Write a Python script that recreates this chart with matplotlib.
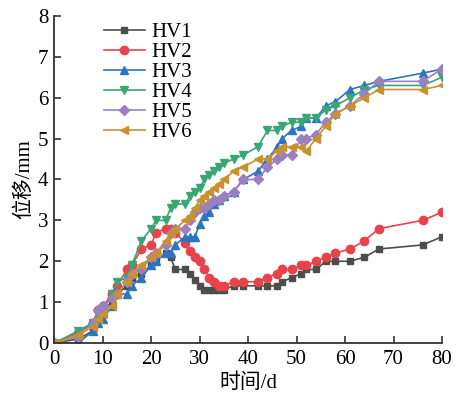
import numpy as np
import matplotlib.pyplot as plt

plt.rcParams['font.family'] = ['Liberation Serif', 'Noto Sans CJK SC']

days = [0, 5, 8, 9, 10, 12, 13, 15, 16, 18, 20, 21, 23, 24, 25, 27, 28, 29, 30, 31, 32,
        33, 34, 35, 37, 39, 42, 44, 46, 47, 49, 51, 52, 54, 56, 58, 61, 64, 67, 76, 80]

hv1 = [0, 0.1, 0.3, 0.6, 0.8, 1.0, 1.2, 1.4, 1.6, 1.7, 1.9, 2.0, 2.2, 2.1, 1.8, 1.8, 1.7,
       1.55, 1.4, 1.3, 1.3, 1.3, 1.3, 1.3, 1.4, 1.4, 1.4, 1.4, 1.4, 1.5, 1.6, 1.7, 1.8,
       1.8, 2.0, 2.0, 2.0, 2.1, 2.3, 2.4, 2.6]
hv2 = [0, 0.25, 0.5, 0.8, 0.9, 1.2, 1.4, 1.8, 1.9, 2.3, 2.4, 2.7, 2.8, 2.8, 2.7, 2.45,
       2.25, 2.1, 2.0, 1.8, 1.6, 1.5, 1.4, 1.4, 1.5, 1.5, 1.5, 1.6, 1.7, 1.8, 1.8, 1.9,
       1.9, 2.0, 2.1, 2.2, 2.3, 2.5, 2.8, 3.0, 3.2]
hv3 = [0, 0.0, 0.3, 0.5, 0.6, 0.9, 1.2, 1.2, 1.4, 1.6, 1.9, 2.0, 2.2, 2.2, 2.4, 2.6, 2.6,
       2.6, 2.9, 3.1, 3.2, 3.4, 3.5, 3.6, 3.7, 4.0, 4.2, 4.5, 4.8, 5.0, 5.2, 5.3, 5.5,
       5.5, 5.8, 5.9, 6.2, 6.3, 6.4, 6.6, 6.7]
hv4 = [0, 0.3, 0.5, 0.7, 0.8, 1.2, 1.5, 1.6, 1.9, 2.5, 2.8, 3.0, 3.0, 3.3, 3.4, 3.4, 3.6,
       3.7, 3.8, 4.0, 4.1, 4.2, 4.3, 4.4, 4.5, 4.6, 4.8, 5.2, 5.2, 5.3, 5.4, 5.4, 5.5,
       5.5, 5.7, 5.8, 6.0, 6.2, 6.3, 6.3, 6.5]
hv5 = [0, 0.15, 0.5, 0.8, 0.9, 1.1, 1.2, 1.5, 1.7, 1.8, 2.1, 2.2, 2.4, 2.7, 2.8, 2.8, 3.0,
       3.2, 3.3, 3.3, 3.4, 3.5, 3.5, 3.6, 3.7, 4.0, 4.0, 4.3, 4.5, 4.6, 4.6, 5.0, 5.0,
       5.1, 5.4, 5.6, 5.8, 6.1, 6.4, 6.4, 6.7]
hv6 = [0, 0.2, 0.4, 0.6, 0.7, 0.9, 1.2, 1.5, 1.7, 1.9, 2.1, 2.2, 2.5, 2.7, 2.8, 3.0, 3.1,
       3.3, 3.5, 3.6, 3.7, 3.8, 3.9, 4.0, 4.2, 4.3, 4.5, 4.5, 4.7, 4.8, 4.8, 4.8, 4.7,
       5.0, 5.3, 5.6, 5.8, 6.0, 6.2, 6.2, 6.3]

names = ["HV1", "HV2", "HV3", "HV4", "HV5", "HV6"]
series = [hv1, hv2, hv3, hv4, hv5, hv6]
colors = ["#4d4d4d", "#e8434b", "#2f74c0", "#3aa673", "#9a80c0", "#c8932f"]
markers = ["s", "o", "^", "v", "D", "<"]
sizes = [5, 6, 6, 6, 5, 6]

fig = plt.figure(figsize=(4.59, 3.98), dpi=100)
ax = fig.add_axes([0.118, 0.138, 0.845, 0.822])

for i in range(len(series)):
    ax.plot(days, series[i], color=colors[i], marker=markers[i], markersize=sizes[i],
            linewidth=1.2, label=names[i])

ax.set_xlim(0, 80)
ax.set_ylim(0, 8)
ax.set_xticks(np.arange(0, 81, 10))
ax.set_yticks(np.arange(0, 9, 1))
ax.spines['top'].set_visible(False)
ax.spines['right'].set_visible(False)
for s in ['left', 'bottom']:
    ax.spines[s].set_linewidth(1.3)
    ax.spines[s].set_color('#333333')
ax.tick_params(direction='in', length=5, width=1.2, labelsize=15, color='#333333')
ax.tick_params(axis='x', pad=5)
ax.tick_params(axis='y', pad=4)
ax.set_xlabel("时间/d", fontsize=15, labelpad=3)
ax.set_ylabel("位移/mm", fontsize=15, labelpad=3)

ax.legend(loc='upper left', bbox_to_anchor=(0.09, 1.025), frameon=False, fontsize=15,
          handlelength=2.0, handletextpad=0.3, labelspacing=0.02, borderaxespad=0.3)

fig.savefig("out.png", dpi=100)
